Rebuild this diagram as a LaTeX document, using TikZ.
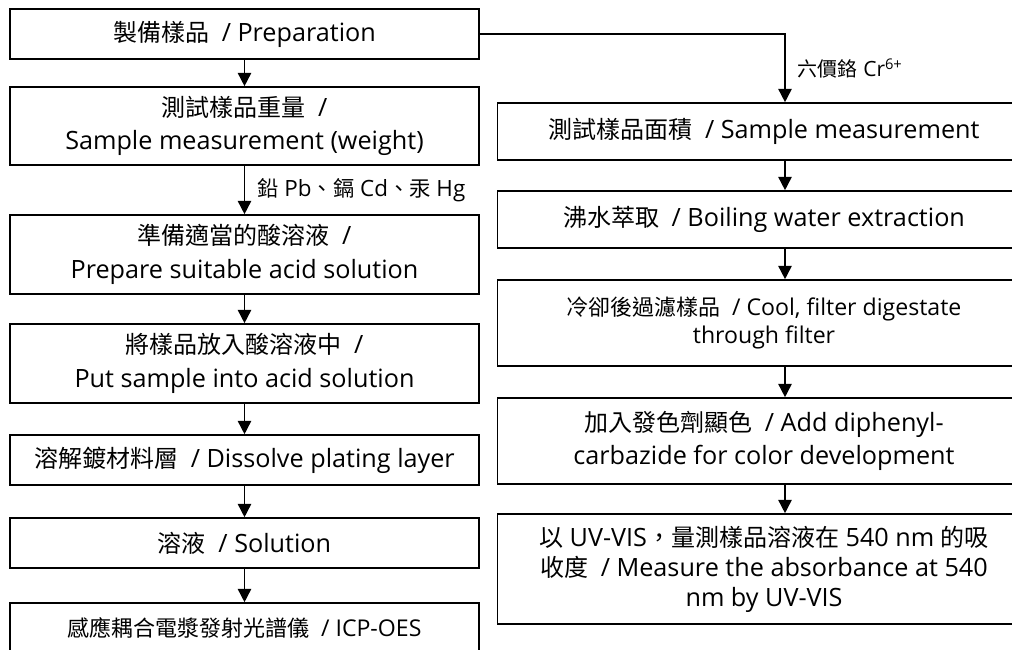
\documentclass[tikz,border=0pt]{standalone}
\usepackage{fontspec}
\setmainfont{Open Sans}[Scale=1.05]
\newfontfamily\cjk{Noto Sans CJK TC}
\newcommand{\zh}[1]{{\cjk #1}}
\usetikzlibrary{arrows.meta}

\begin{document}
\begin{tikzpicture}[x=0.75pt,y=-0.75pt,
  box/.style={shape=rectangle,draw=black,align=center,line width=1.2pt,inner sep=0pt,font=\fontsize{18}{25}\selectfont},
  lbox/.style={box,minimum width=351.75pt},
  rbox/.style={box,minimum width=400pt},
  small/.style={font=\fontsize{16.5}{21}\selectfont},
  arr/.style={-{Triangle[width=10pt,length=10pt]},draw=black,line width=1.2pt},
  lbl/.style={inner sep=2pt,xshift=7pt,font=\fontsize{16}{18}\selectfont}]
\useasboundingbox (0,0) rectangle (1012,649);

\node[lbox,minimum height=37.5pt] (0) at (244.5,34) {\zh{製備樣品}\enspace/ Preparation};
\node[lbox,minimum height=58.5pt] (1) at (244.5,126) {\zh{測試樣品重量}\enspace/\\Sample measurement (weight)};
\node[lbox,minimum height=59.25pt] (2) at (244.5,254.5) {\zh{準備適當的酸溶液}\enspace/\\Prepare suitable acid solution};
\node[lbox,minimum height=59.25pt] (3) at (244.5,363.5) {\zh{將樣品放入酸溶液中}\enspace/\\Put sample into acid solution};
\node[lbox,minimum height=37.5pt] (4) at (244.5,460) {\zh{溶解鍍材料層}\enspace/ Dissolve plating layer};
\node[lbox,minimum height=37.5pt] (5) at (244.5,543) {\zh{溶液}\enspace/ Solution};
\node[lbox,small,minimum height=37.5pt] (6) at (244.5,628) {\zh{感應耦合電漿發射光譜儀}\enspace/ ICP-OES};

\node[rbox,minimum height=42.75pt] (7) at (764,131.5) {\zh{測試樣品面積}\enspace/ Sample measurement};
\node[rbox,minimum height=42.75pt] (8) at (764,219.5) {\zh{沸水萃取}\enspace/ Boiling water extraction};
\node[rbox,small,minimum height=64.5pt] (9) at (764,323) {\zh{冷卻後過濾樣品}\enspace/ Cool, filter digestate\\through filter};
\node[rbox,minimum height=64.5pt] (10) at (764,441) {\zh{加入發色劑顯色}\enspace/ Add diphenyl-\\carbazide for color development};
\node[rbox,minimum height=82.5pt,font=\fontsize{18}{22.5}\selectfont] (11) at (764,569) {\zh{以} UV-VIS\zh{，量測樣品溶液在} 540 nm \zh{的吸}\\\zh{收度}\enspace/ Measure the absorbance at 540\\nm by UV-VIS};

\coordinate (c) at (785,0);

\path [arr] (0) edge node {} (1);
\path [arr] (1) edge node[right,lbl] {\zh{鉛} Pb\zh{、鎘} Cd\zh{、汞} Hg} (2);
\path [arr] (2) edge node {} (3);
\path [arr] (3) edge node {} (4);
\path [arr] (4) edge node {} (5);
\path [arr] (5) edge node {} (6);

\draw [arr] (0.east) -- (0.east -| c) -- node[right,lbl,font=\fontsize{15}{16}\selectfont] {\zh{六價鉻} Cr\textsuperscript{6+}} (7.north -| c);
\draw [arr] (7.south -| c) -- (8.north -| c);
\draw [arr] (8.south -| c) -- (9.north -| c);
\draw [arr] (9.south -| c) -- (10.north -| c);
\draw [arr] (10.south -| c) -- (11.north -| c);
\end{tikzpicture}
\end{document}
